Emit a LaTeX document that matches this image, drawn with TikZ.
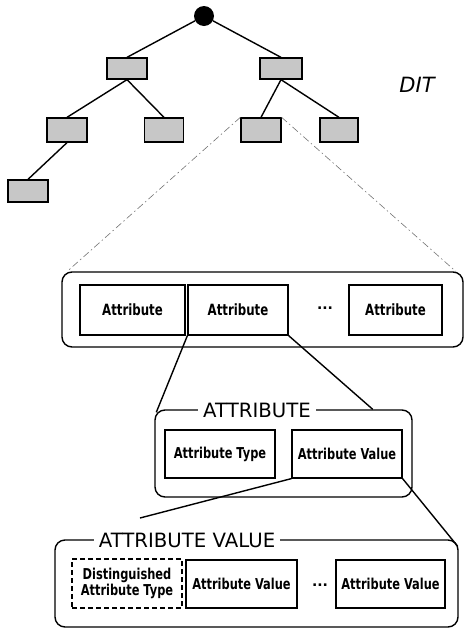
\documentclass[tikz,border=0pt]{standalone}
\usepackage{fontspec}
\setmainfont{DejaVu Sans}
\newfontfamily\cellfont[FakeStretch=0.76]{DejaVu Sans}
\usetikzlibrary{calc}
\begin{document}
\begin{tikzpicture}[x=1pt,y=-1pt,
  treebox/.style={draw, line width=1.3pt, fill=black!22, inner sep=0pt},
  edge/.style={line width=1.4pt},
  guide/.style={black!55, line width=0.6pt, dash pattern=on 7pt off 3pt on 1.5pt off 3pt},
  group/.style={draw, line width=1.4pt, rounded corners=10pt, inner sep=0pt},
  cell/.style={draw, line width=1.2pt, inner sep=0pt, align=center},
  bigcell/.style={cell, font=\cellfont\fontsize{15.5}{17}\bfseries\selectfont},
  smallcell/.style={cell, font=\cellfont\fontsize{15}{16.5}\bfseries\selectfont},
  optional/.style={dash pattern=on 5pt off 3pt},
  title/.style={fill=white, inner xsep=5pt, inner ysep=1pt, font=\fontsize{19.7}{22}\selectfont},
  dots/.style={font=\fontsize{14}{15}\bfseries\selectfont}
]
\useasboundingbox (0,0) rectangle (464,630);

% directory information tree
\node[circle, fill=black, minimum size=20pt, inner sep=0pt] (root) at (204,16) {};
\node[treebox, minimum width=40pt, minimum height=21pt] (n1) at (127,68.5) {};
\node[treebox, minimum width=42pt, minimum height=21pt] (n2) at (281,68.5) {};
\node[treebox, minimum width=40pt, minimum height=24pt] (n3) at (67,130) {};
\node[treebox, minimum width=39pt, minimum height=24pt] (n4) at (164,130) {};
\node[treebox, minimum width=40pt, minimum height=24pt] (n5) at (261,130) {};
\node[treebox, minimum width=38pt, minimum height=24pt] (n6) at (339,130) {};
\node[treebox, minimum width=40pt, minimum height=22pt] (n7) at (28,191) {};

\draw[edge] (root) -- (n1.north);
\draw[edge] (root) -- (n2.north);
\draw[edge] (n1.south) -- (n3.north);
\draw[edge] (n1.south) -- (n4.north);
\draw[edge] (n2.south) -- (n5.north);
\draw[edge] (n2.south) -- (n6.north);
\draw[edge] (n3.south) -- (n7.north);

\node[font=\fontsize{21}{23}\itshape\selectfont] (dit) at (417,85) {DIT};

% entry: a set of attributes
\node[group, minimum width=401pt, minimum height=75pt] (g1) at (262.5,309.5) {};
\node[bigcell, minimum width=105pt, minimum height=50pt] (a1) at (132.5,310) {Attribute};
\node[bigcell, minimum width=100pt, minimum height=50pt] (a2) at (238,310) {Attribute};
\node[dots] (d1) at (325,308) {...};
\node[bigcell, minimum width=93pt, minimum height=50pt] (a3) at (395.5,310) {Attribute};

\draw[guide] (n5.north west) -- ($(g1.north west)+(6,0)$);
\draw[guide] (n5.north east) -- ($(g1.north east)+(-8,0)$);

% one attribute
\node[group, minimum width=257pt, minimum height=87pt] (g2) at (283.5,453.5) {};
\node[title] (t2) at (257,410) {ATTRIBUTE};
\node[smallcell, minimum width=110pt, minimum height=48pt] (at) at (220,454) {Attribute Type};
\node[smallcell, minimum width=110pt, minimum height=48pt] (av) at (347,454) {Attribute Value};

\draw[edge] (a2.south west) -- ($(g2.north west)+(2,3)$);
\draw[edge] (a2.south east) -- ($(g2.north east)+(-40,0)$);

% attribute values
\node[group, minimum width=403pt, minimum height=87pt] (g3) at (256.5,583.5) {};
\node[title] (t3) at (187,540) {ATTRIBUTE VALUE};
\node[smallcell, optional, minimum width=110pt, minimum height=49pt] (dt) at (127,583.5) {Distinguished\\Attribute Type};
\node[smallcell, minimum width=111pt, minimum height=48pt] (v1) at (241.5,584) {Attribute Value};
\node[dots] (d2) at (320,585) {...};
\node[smallcell, minimum width=109pt, minimum height=48pt] (v2) at (390.5,584) {Attribute Value};

\coordinate (avend) at (140,518);
\draw[edge] (av.south west) -- (avend);
\draw[edge] (av.south east) -- ($(g3.north east)+(-1,7)$);
\end{tikzpicture}
\end{document}
